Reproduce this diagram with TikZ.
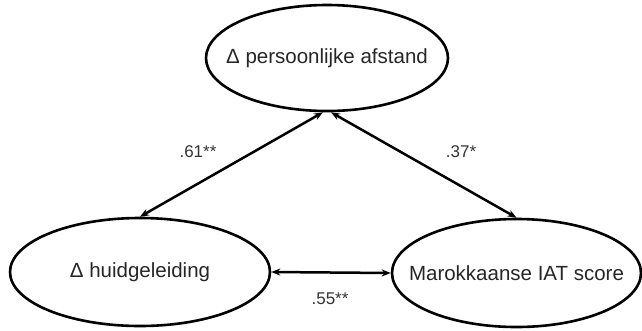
\documentclass[tikz,border=0pt]{standalone}
\usepackage{fontspec}
\setmainfont{Liberation Sans}
\usetikzlibrary{shapes.geometric,arrows.meta}
\newcommand{\zbox}[1]{\makebox[0pt]{#1}}
\begin{document}
\begin{tikzpicture}[x=1pt,y=-1pt,
  var/.style={ellipse,draw,line width=2.6pt,inner sep=0pt,text=black!85,font=\fontsize{20.5}{24}\selectfont},
  link/.style={{Stealth[length=9pt,width=7pt]}-{Stealth[length=9pt,width=7pt]},line width=2.5pt},
  lbl/.style={font=\fontsize{17}{20}\selectfont,text=black!80}]
\useasboundingbox (0,0) rectangle (642,330);
\node[var,minimum width=242pt,minimum height=106pt] (top) at (327,58) {\zbox{Δ persoonlijke afstand}};
\node[var,minimum width=260pt,minimum height=108pt] (bl) at (140,272) {\zbox{Δ huidgeleiding}};
\node[var,minimum width=249pt,minimum height=108pt] (br) at (516.5,273) {\zbox{Marokkaanse IAT score}};
\draw[link] (bl.north) -- ([xshift=-4pt]top.south);
\draw[link] ([xshift=4pt]top.south) -- (br.north);
\draw[link] (bl.east) -- (br.west);
\node[lbl] (l1) at (198,152) {.61**};
\node[lbl] (l2) at (461,152) {.37*};
\node[lbl] (l3) at (330,299) {.55**};
\end{tikzpicture}
\end{document}
